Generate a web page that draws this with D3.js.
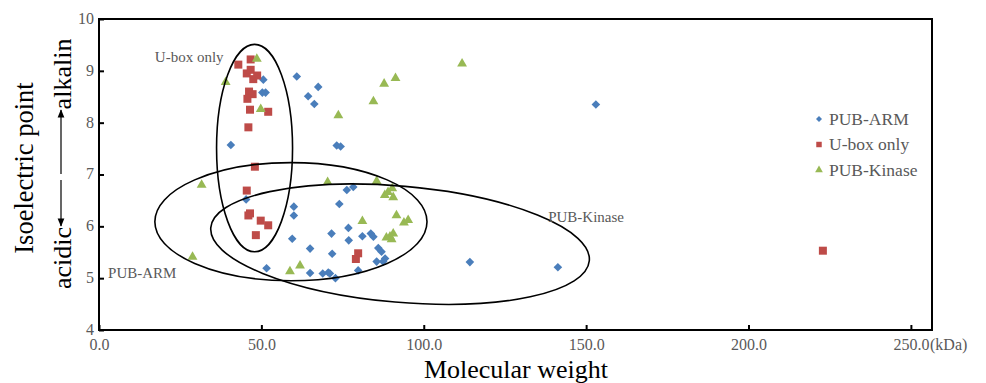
<!DOCTYPE html>
<html lang="en">
<head>
<meta charset="utf-8" />
<script src="https://cdn.jsdelivr.net/npm/d3@7"></script>
<style>
  body { margin: 0; background: #fff; }
  svg text { font-family: "Liberation Serif", "Times New Roman", serif; }
</style>
</head>
<body>
<div id="chart"></div>
<script>
// axis ticks
var xTicks = [0, 50, 100, 150, 200, 250];
var yTicks = [4, 5, 6, 7, 8, 9, 10];

// series (molecular weight kDa, isoelectric point)
var seriesNames = ["PUB-ARM", "U-box only", "PUB-Kinase"];

var armMW = [40.6, 45.3, 50.6, 50.3, 51.3, 51.6, 60.0, 60.0, 59.5, 60.9, 64.4, 65.0, 65.0, 66.3,
  67.5, 68.9, 70.6, 71.1, 71.6, 71.8, 72.8, 73.2, 74.4, 74.0, 76.3, 78.3, 76.8, 76.9, 79.8,
  81.1, 83.7, 84.5, 86.0, 87.0, 88.1, 85.5, 87.5, 114.2, 141.3, 153.0];
var armPI = [7.57, 6.52, 8.83, 8.58, 8.58, 5.19, 6.38, 6.21, 5.76, 8.89, 8.51, 5.57, 5.10, 8.36,
  8.69, 5.09, 5.11, 5.09, 5.86, 5.47, 5.00, 7.56, 7.54, 6.43, 6.70, 6.76, 5.97, 5.73, 5.15,
  5.81, 5.86, 5.80, 5.58, 5.51, 5.38, 5.32, 5.32, 5.31, 5.21, 8.35];

var uboxMW = [42.9, 46.7, 45.5, 46.7, 47.5, 48.7, 46.2, 47.3, 45.7, 46.5, 52.1, 46.0, 48.0, 45.5,
  46.0, 46.5, 49.8, 52.1, 48.3, 79.8, 79.1, 222.9];
var uboxPI = [9.12, 9.22, 8.95, 9.02, 8.84, 8.91, 8.60, 8.55, 8.46, 8.25, 8.21, 7.91, 7.15, 6.69,
  6.21, 6.25, 6.11, 6.02, 5.83, 5.48, 5.37, 5.53];

var kinaseMW = [28.8, 31.6, 39.0, 48.6, 49.8, 58.8, 61.9, 70.4, 73.7, 81.1, 84.5, 85.5, 87.8,
  88.0, 89.0, 90.3, 90.6, 88.5, 89.6, 90.6, 90.1, 91.3, 91.6, 93.9, 95.2, 111.8];
var kinasePI = [5.41, 6.80, 8.78, 9.23, 8.26, 5.13, 5.24, 6.85, 8.14, 6.10, 8.41, 6.87, 8.75,
  6.60, 6.66, 6.73, 6.56, 5.78, 5.80, 5.86, 5.75, 8.86, 6.21, 6.07, 6.12, 9.14];

// group outlines drawn over the points (data units)
var groupLabels = ["U-box only", "PUB-ARM", "PUB-Kinase"];
var groupCenterMW = [47.9, 59.1, 92.7];
var groupCenterPI = [7.51, 6.09, 5.655];
var groupRadiusMW = [11.7, 41.9, 58.5];
var groupRadiusPI = [2.0, 1.14, 1.12];
var groupTilt = [0, 0, 5];
var groupLabelMW = [17.2, 2.8, 138.3];
var groupLabelPI = [9.17, 5.0, 6.08];

var width = 986, height = 383;
var margin = { top: 19, right: 54, bottom: 53, left: 99 };
var innerW = width - margin.left - margin.right;
var innerH = height - margin.top - margin.bottom;

var colors = ["#4a7ebb", "#be4b48", "#98b954"];
var gray = "#595959";
var serif = '"Liberation Serif", "Times New Roman", serif';

var x = d3.scaleLinear().domain([0, 256.5]).range([0, innerW]);
var y = d3.scaleLinear().domain([4, 10]).range([innerH, 0]);

var svg = d3.select("#chart").append("svg")
  .attr("width", width)
  .attr("height", height)
  .attr("font-family", serif);

var g = svg.append("g")
  .attr("transform", "translate(" + margin.left + "," + margin.top + ")");

// axes, ticks pointing inward
var xAxis = g.append("g")
  .attr("transform", "translate(0," + innerH + ")")
  .call(d3.axisBottom(x).tickValues(xTicks).tickSize(-5).tickPadding(9)
    .tickFormat(d3.format(".1f")));
var yAxis = g.append("g")
  .call(d3.axisLeft(y).tickValues(yTicks).tickSize(-5).tickPadding(5)
    .tickFormat(d3.format("d")));

[xAxis, yAxis].forEach(function (a) {
  a.attr("font-family", serif);
  a.select(".domain").remove();
  a.selectAll(".tick line").attr("stroke", "#000").attr("stroke-width", 2);
  a.selectAll(".tick text").attr("fill", gray).style("font-size", "16px");
});
yAxis.selectAll(".tick text").attr("dy", "0.28em");

g.append("text")
  .attr("x", innerW - 2)
  .attr("y", innerH + 9)
  .attr("dy", "0.71em")
  .attr("fill", gray)
  .style("font-size", "16px")
  .text("(kDa)");

// frame
g.append("rect")
  .attr("width", innerW)
  .attr("height", innerH)
  .attr("fill", "none")
  .attr("stroke", "#000")
  .attr("stroke-width", 2);

// points
var diamond = "M0,-4.3L4.3,0L0,4.3L-4.3,0Z";
var square = d3.symbol().type(d3.symbolSquare).size(64)();
var triangle = d3.symbol().type(d3.symbolTriangle).size(42)();
var shapes = [diamond, square, triangle];

var series = [
  { mw: armMW, pi: armPI },
  { mw: uboxMW, pi: uboxPI },
  { mw: kinaseMW, pi: kinasePI }
];

series.forEach(function (s, k) {
  g.append("g").selectAll("path")
    .data(s.mw.map(function (d, i) { return [d, s.pi[i]]; }))
    .enter()
    .append("path")
    .attr("d", shapes[k])
    .attr("fill", colors[k])
    .attr("transform", function (d) {
      return "translate(" + x(d[0]) + "," + y(d[1]) + ")";
    });
});

// ellipses around groups
groupLabels.forEach(function (name, i) {
  var cx = x(groupCenterMW[i]), cy = y(groupCenterPI[i]);
  var rx = x(groupCenterMW[i] + groupRadiusMW[i]) - cx;
  var ry = cy - y(groupCenterPI[i] + groupRadiusPI[i]);
  g.append("ellipse")
    .attr("cx", 0).attr("cy", 0)
    .attr("rx", rx).attr("ry", ry)
    .attr("transform", "translate(" + cx + "," + cy + ") rotate(" + groupTilt[i] + ")")
    .attr("fill", "none")
    .attr("stroke", "#000")
    .attr("stroke-width", 1.6);
  g.append("text")
    .attr("x", x(groupLabelMW[i]))
    .attr("y", y(groupLabelPI[i]))
    .attr("fill", gray)
    .style("font-size", "15px")
    .text(name);
});

// legend
var legend = svg.append("g").attr("transform", "translate(819,119)");
var legendShapes = [
  "M0,-3L3,0L0,3L-3,0Z",
  d3.symbol().type(d3.symbolSquare).size(30)(),
  d3.symbol().type(d3.symbolTriangle).size(26)()
];
seriesNames.forEach(function (name, i) {
  var row = legend.append("g").attr("transform", "translate(0," + i * 25.5 + ")");
  row.append("path").attr("d", legendShapes[i]).attr("fill", colors[i]);
  row.append("text")
    .attr("x", 10)
    .attr("dy", "0.33em")
    .attr("fill", gray)
    .style("font-size", "17.5px")
    .text(name);
});

// axis titles
svg.append("text")
  .attr("x", 516)
  .attr("y", 378)
  .attr("text-anchor", "middle")
  .attr("fill", "#000")
  .style("font-size", "26px")
  .text("Molecular weight");

svg.append("text")
  .attr("transform", "translate(33,168) rotate(-90)")
  .attr("text-anchor", "middle")
  .attr("fill", "#000")
  .style("font-size", "26.5px")
  .text("Isoelectric point");

svg.append("text")
  .attr("transform", "translate(71,74) rotate(-90)")
  .attr("text-anchor", "middle")
  .style("font-size", "26px")
  .text("alkalin");

svg.append("text")
  .attr("transform", "translate(71,258) rotate(-90)")
  .attr("text-anchor", "middle")
  .style("font-size", "26px")
  .text("acidic");

// arrows between acidic and alkalin
svg.append("defs").append("marker")
  .attr("id", "head")
  .attr("viewBox", "0 0 10 10")
  .attr("refX", 9).attr("refY", 5)
  .attr("markerWidth", 7).attr("markerHeight", 7)
  .attr("orient", "auto")
  .append("path")
  .attr("d", "M0,1L10,5L0,9Z")
  .attr("fill", "#000");

svg.append("line")
  .attr("x1", 61).attr("y1", 174)
  .attr("x2", 61).attr("y2", 110)
  .attr("stroke", "#000").attr("stroke-width", 1.2)
  .attr("marker-end", "url(#head)");
svg.append("line")
  .attr("x1", 61).attr("y1", 180)
  .attr("x2", 61).attr("y2", 226)
  .attr("stroke", "#000").attr("stroke-width", 1.2)
  .attr("marker-end", "url(#head)");
</script>
</body>
</html>
